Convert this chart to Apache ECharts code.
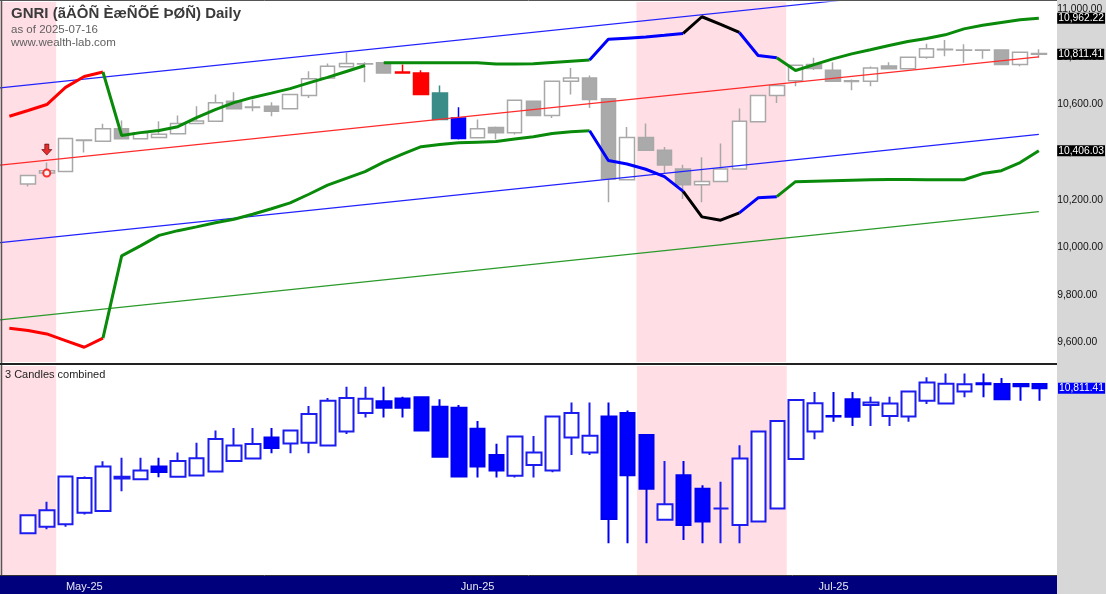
<!DOCTYPE html>
<html><head><meta charset="utf-8">
<script src="https://cdn.jsdelivr.net/npm/echarts@6/dist/echarts.min.js"></script>
<style>html,body{margin:0;padding:0;background:#fff}#c{width:1106px;height:594px}</style>
</head><body><div id="c"></div>
<script>
// ---- data (index 0 and 1 are prior bars; visible window starts at index 1) ----
const dates = ['2025-04-24','2025-04-25','2025-04-28','2025-04-29','2025-04-30',
'2025-05-01','2025-05-02','2025-05-05','2025-05-06','2025-05-07','2025-05-08','2025-05-09','2025-05-12','2025-05-13','2025-05-14','2025-05-15','2025-05-16','2025-05-19','2025-05-20','2025-05-21','2025-05-22','2025-05-23','2025-05-27','2025-05-28','2025-05-29','2025-05-30',
'2025-06-02','2025-06-03','2025-06-04','2025-06-05','2025-06-06','2025-06-09','2025-06-10','2025-06-11','2025-06-13','2025-06-16','2025-06-17','2025-06-18','2025-06-20','2025-06-23','2025-06-24','2025-06-25','2025-06-26','2025-06-27','2025-06-30',
'2025-07-01','2025-07-02','2025-07-03','2025-07-04','2025-07-07','2025-07-08','2025-07-09','2025-07-10','2025-07-11','2025-07-14','2025-07-15','2025-07-16'];
const openP = [10230,10256,10266,10312,10319,10449,10446,10498,10456,10461,10477,10520,10530,10614,10590,10593,10582,10638,10712,10759,10771,10776,10737,10733,10649,10544,10460,10504,10481,10614,10554,10698,10712,10624,10284,10462,10408,10329,10263,10277,10329,10528,10638,10700,10768,10744,10700,10698,10762,10750,10799,10832,10829,10829,10829,10768,10815];
const highP = [10275,10290,10303,10356,10457,10452,10519,10533,10485,10530,10554,10593,10642,10652,10621,10610,10645,10740,10773,10818,10778,10777,10768,10744,10680,10589,10537,10508,10620,10616,10700,10754,10722,10626,10506,10520,10422,10347,10378,10436,10583,10640,10684,10768,10797,10778,10705,10760,10778,10800,10856,10871,10853,10830,10830,10822,10832];
const lowP = [10228,10246,10256,10305,10317,10398,10446,10456,10454,10461,10477,10519,10530,10580,10572,10551,10580,10628,10710,10758,10694,10733,10731,10642,10537,10453,10459,10453,10474,10552,10544,10642,10586,10189,10282,10405,10312,10203,10189,10275,10329,10526,10607,10677,10745,10695,10660,10677,10748,10748,10792,10803,10776,10792,10766,10761,10797];
const closeP = [10255,10270,10302,10322,10457,10451,10498,10456,10481,10475,10520,10531,10608,10582,10588,10572,10642,10708,10761,10773,10770,10733,10733,10642,10537,10457,10498,10481,10618,10554,10698,10712,10621,10287,10462,10408,10346,10263,10277,10329,10530,10638,10680,10765,10751,10698,10697,10754,10750,10799,10835,10830,10828,10828,10768,10820,10811.41];
const upperBand = ['-',10551,10575,10600,10672,10718,10737,10470,10482,10491,10507,10545,10579,10608,10630,10648,10667,10691,10714,10739,10764,10776,10776,10776,10776,10776,10776,10770,10770,10771,10777,10782,10787,10874,10879,10884,10891,10899,10969,10937,10903,10806,10797,10743,10768,10792,10813,10830,10848,10865,10878,10893,10918,10933,10945,10956,10962.22];
const lowerBand = ['-',9660,9650,9636,9608,9580,9618,9964,10006,10050,10070,10086,10103,10118,10139,10162,10187,10223,10261,10290,10318,10358,10392,10423,10432,10439,10442,10445,10455,10465,10478,10486,10490,10365,10350,10328,10297,10235,10128,10114,10145,10208,10213,10276,10278,10280,10282,10284,10285,10285,10284,10284,10284,10310,10322,10356,10406.03];
// straight channel lines: value at left edge and at the last bar
const regLine = [10345, 10800];
const chanUpper = [10670, 11125];
const chanLower = [10020, 10475];
const trendGreen = [9695, 10150];
const yTicks = [9600, 9800, 10000, 10200, 10400, 10600, 10800, 11000];
const shadedRanges = [[1, 3], [35, 42]];
const signalIndex = 3;       // short signal bar
const signalPrice = 10312;   // entry price
const highlightBars = {22: '#ff0000', 23: '#ff0000', 24: '#3a8c88', 25: '#0000ff'};

// ---- build ----
const N = dates.length, FIRST = 1, LAST = N - 1, VIS0 = 2;
const fmt = v => Number(v).toLocaleString('en-US', {minimumFractionDigits: 2, maximumFractionDigits: 2});
const MON = ['Jan','Feb','Mar','Apr','May','Jun','Jul','Aug','Sep','Oct','Nov','Dec'];
const FONT = 'Liberation Sans';

const mainCandles = dates.map((d, j) => {
  if (j < VIS0) return ['-', '-', '-', '-'];
  const v = [openP[j], closeP[j], lowP[j], highP[j]];
  const c = highlightBars[j];
  return c ? {value: v, itemStyle: {color: c, color0: c, borderColor: c, borderColor0: c}} : v;
});
const combined = dates.map((d, j) => {
  if (j < VIS0) return ['-', '-', '-', '-'];
  const a = j - 2;
  return [openP[a], closeP[j], Math.min(lowP[a], lowP[a + 1], lowP[j]), Math.max(highP[a], highP[a + 1], highP[j])];
});

const upperRuns = [[1, 6, '#ff0000'], [6, 20, '#0a8a0a'], [21, 32, '#0a8a0a'], [32, 37, '#0000ff'], [37, 40, '#000000'], [40, 42, '#0000ff'], [42, 56, '#0a8a0a']];
const lowerRuns = [[1, 6, '#ff0000'], [6, 32, '#0a8a0a'], [32, 37, '#0000ff'], [37, 40, '#000000'], [40, 42, '#0000ff'], [42, 56, '#0a8a0a']];
const bandSeries = (arr, runs) => runs.map(([a, b, col]) => ({
  type: 'line', xAxisIndex: 0, yAxisIndex: 0, z: 4, symbol: 'none', silent: true,
  lineStyle: {color: col, width: 3}, connectNulls: false,
  data: arr.map((v, j) => (j >= a && j <= b) ? v : '-')
}));
const straight = (pair, col) => ({
  type: 'line', xAxisIndex: 1, yAxisIndex: 0, z: 3, symbol: 'none', silent: true,
  lineStyle: {color: col, width: 1.2},
  data: [[FIRST - 0.5, pair[0]], [LAST, pair[1]]]
});
const areaData = shadedRanges.map(r => [{xAxis: r[0] - 0.5}, {xAxis: r[1] + 0.5}]);
// price tag in the axis strip: an invisible horizontal line with its end label
const tagSeries = (v, bg, xi, yi) => ({
  type: 'line', xAxisIndex: xi, yAxisIndex: yi, z: 20, symbol: 'none', silent: true,
  lineStyle: {color: 'rgba(0,0,0,0)', width: 1},
  data: [[FIRST - 0.5, v], [LAST + 0.5, v]],
  endLabel: {show: true, distance: 9, formatter: () => fmt(v), color: '#fff', backgroundColor: bg,
    padding: [1, 1, 0, 1], fontSize: 10.3, fontFamily: FONT}
});

const option = {
  animation: false,
  backgroundColor: '#ffffff',
  grid: [
    {left: 0, top: 2, width: 1049, height: 360},
    {left: 0, top: 366, width: 1049, height: 209}
  ],
  xAxis: [
    {type: 'category', gridIndex: 0, data: dates, min: FIRST, max: LAST, boundaryGap: true, show: false},
    {type: 'value', gridIndex: 0, min: FIRST - 0.5, max: LAST + 0.5, show: false},
    {type: 'category', gridIndex: 1, data: dates, min: FIRST, max: LAST, boundaryGap: true,
      axisLine: {show: false}, axisTick: {show: false}, splitLine: {show: false},
      axisLabel: {show: true, margin: 6, color: '#e6e6f0', fontSize: 11, fontFamily: FONT,
        interval: (i, v) => i > FIRST && v.slice(5, 7) !== dates[i - 1].slice(5, 7),
        formatter: v => MON[+v.slice(5, 7) - 1] + '-' + v.slice(2, 4)}},
    {type: 'value', gridIndex: 1, min: FIRST - 0.5, max: LAST + 0.5, show: false}
  ],
  yAxis: [
    {type: 'value', gridIndex: 0, position: 'right', min: 9518, max: 11031,
      axisLine: {show: false}, axisTick: {show: false}, splitLine: {show: false},
      axisLabel: {customValues: yTicks, margin: 9, color: '#111', fontSize: 10.3, fontFamily: FONT, formatter: v => fmt(v)}},
    {type: 'value', gridIndex: 1, position: 'right', min: 10062, max: 10901,
      axisLine: {show: false}, axisTick: {show: false}, splitLine: {show: false}, axisLabel: {show: false}}
  ],
  graphic: {elements: [
    {type: 'rect', z: -10, shape: {x: 1057, y: 0, width: 49, height: 594}, style: {fill: '#d7d7d7'}},
    {type: 'rect', z: -10, shape: {x: 0, y: 576, width: 1057, height: 18}, style: {fill: '#00007c'}},
    {type: 'line', z: 50, shape: {x1: 0, y1: 0.5, x2: 1057, y2: 0.5}, style: {stroke: '#555', lineWidth: 1}},
    {type: 'line', z: 50, shape: {x1: 1.5, y1: 0, x2: 1.5, y2: 576}, style: {stroke: '#555', lineWidth: 1.5}},
    {type: 'line', z: 50, shape: {x1: 0, y1: 364, x2: 1057, y2: 364}, style: {stroke: '#222', lineWidth: 2}},
    {type: 'line', z: 50, shape: {x1: 0, y1: 575.5, x2: 1057, y2: 575.5}, style: {stroke: '#333', lineWidth: 1}},
    {type: 'text', z: 50, left: 11, top: 6, style: {text: 'GNRI (ãÄÔÑ ÈæÑÕÉ ÞØÑ) Daily', fill: '#3a3a3a', font: 'bold 15px "Liberation Sans"'}},
    {type: 'text', z: 50, left: 11, top: 24, style: {text: 'as of 2025-07-16', fill: '#606060', font: '11.5px "Liberation Sans"'}},
    {type: 'text', z: 50, left: 11, top: 37, style: {text: 'www.wealth-lab.com', fill: '#606060', font: '11.5px "Liberation Sans"'}},
    {type: 'text', z: 50, left: 5, top: 369, style: {text: '3 Candles combined', fill: '#222', font: '11px "Liberation Sans"'}}
  ]},
  series: [
    {type: 'line', xAxisIndex: 1, yAxisIndex: 0, data: [], silent: true,
      markArea: {silent: true, itemStyle: {color: '#ffdfe5'}, data: areaData}},
    {type: 'line', xAxisIndex: 3, yAxisIndex: 1, data: [], silent: true,
      markArea: {silent: true, itemStyle: {color: '#ffdfe5'}, data: areaData}},
    {type: 'candlestick', xAxisIndex: 0, yAxisIndex: 0, z: 2, barWidth: 15, data: mainCandles,
      itemStyle: {color: '#ffffff', color0: '#aaaaaa', borderColor: '#a8a8a8', borderColor0: '#a8a8a8', borderWidth: 1.5}},
    straight(chanUpper, '#2222ff'),
    straight(chanLower, '#2222ff'),
    straight(regLine, '#ff2a2a'),
    straight(trendGreen, '#2a9a2a'),
    ...bandSeries(upperBand, upperRuns),
    ...bandSeries(lowerBand, lowerRuns),
    {type: 'scatter', xAxisIndex: 0, yAxisIndex: 0, z: 6, silent: true,
      symbol: 'path://M3,0 L7,0 L7,5 L10,5 L5,10 L0,5 L3,5 Z', symbolSize: [10, 11], symbolOffset: [0, -13],
      itemStyle: {color: '#e00000', borderColor: '#500', borderWidth: 0.8},
      data: [[signalIndex, highP[signalIndex]]]},
    {type: 'scatter', xAxisIndex: 0, yAxisIndex: 0, z: 6, silent: true, symbol: 'circle', symbolSize: 7,
      itemStyle: {color: '#fff', borderColor: '#ff0000', borderWidth: 2},
      data: [[signalIndex, signalPrice]]},
    {type: 'candlestick', xAxisIndex: 2, yAxisIndex: 1, z: 2, barWidth: 15, data: combined,
      itemStyle: {color: '#ffffff', color0: '#0000ff', borderColor: '#1c1cf0', borderColor0: '#0000f0', borderWidth: 2}},
    tagSeries(upperBand[LAST], '#000', 1, 0),
    tagSeries(closeP[LAST], '#000', 1, 0),
    tagSeries(lowerBand[LAST], '#000', 1, 0),
    tagSeries(closeP[LAST], '#0000ff', 3, 1)
  ]
};
echarts.init(document.getElementById('c'), null, {renderer: 'canvas'}).setOption(option);
</script>
</body></html>
